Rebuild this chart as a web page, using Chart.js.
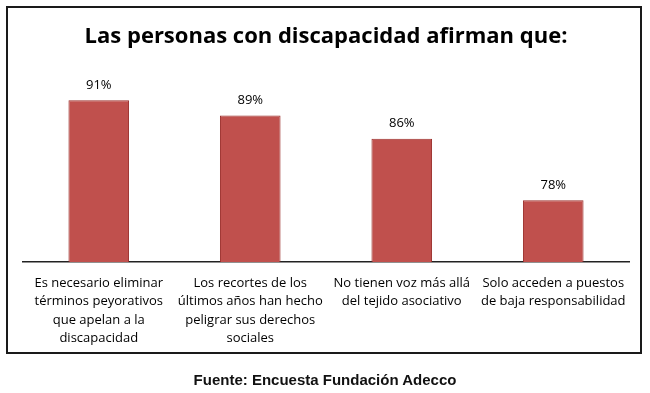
<!DOCTYPE html>
<html>
<head>
<meta charset="utf-8">
<script src="https://cdn.jsdelivr.net/npm/chart.js@4"></script>
<style>
  html, body { margin: 0; padding: 0; background: #fff; }
  #wrap { position: relative; width: 650px; height: 393px; }
  #frame {
    position: absolute; left: 6px; top: 6px; width: 632px; height: 344px;
    border: 2px solid #1a1a1a;
  }
  #chart { position: absolute; left: 0; top: 0; }
  #source {
    position: absolute; left: 0; width: 650px; top: 371px;
    text-align: center; font: bold 15px "Liberation Sans", Arial, sans-serif; color: #111;
  }
</style>
</head>
<body>
<div id="wrap">
  <div id="frame"></div>
  <canvas id="chart" width="650" height="393"></canvas>
  <div id="source">Fuente: Encuesta Fundación Adecco</div>
</div>
<script>
// datos del gráfico
const categorias = [
    ['Es necesario eliminar', 'términos peyorativos', 'que apelan a la', 'discapacidad'],
    ['Los recortes de los', 'últimos años han hecho', 'peligrar sus derechos', 'sociales'],
    ['No tienen voz más allá', 'del tejido asociativo'],
    ['Solo acceden a puestos', 'de baja responsabilidad']
];
const porcentajes = [91, 89, 86, 78];
const titulo = 'Las personas con discapacidad afirman que:';

// etiquetas de valor encima de cada barra
const etiquetasValor = {
    id: 'etiquetasValor',
    afterDatasetsDraw(chart) {
        const ctx = chart.ctx;
        const meta = chart.getDatasetMeta(0);
        ctx.save();
        ctx.font = '13px "Open Sans", sans-serif';
        ctx.fillStyle = '#000';
        ctx.textAlign = 'center';
        ctx.textBaseline = 'middle';
        meta.data.forEach((bar, i) => {
            ctx.fillText(porcentajes[i] + '%', bar.x, bar.y - 15);
        });
        ctx.restore();
    }
};

new Chart(document.getElementById('chart'), {
    type: 'bar',
    data: {
        labels: categorias,
        datasets: [{
            data: porcentajes,
            backgroundColor: '#C0504D',
            borderColor: '#9A2E2B',
            borderWidth: 1,
            barPercentage: 0.4,
            categoryPercentage: 1
        }]
    },
    options: {
        responsive: false,
        animation: false,
        layout: { padding: { left: 23, right: 21, top: 0, bottom: 0 } },
        plugins: {
            legend: { display: false },
            tooltip: { enabled: false },
            title: {
                display: true,
                text: titulo,
                color: '#000',
                font: { family: '"Open Sans", sans-serif', size: 22, weight: 'bold' },
                padding: { top: 24, bottom: 19 }
            }
        },
        scales: {
            x: {
                grid: { display: false },
                border: { display: true, color: '#222', width: 1.5 },
                ticks: {
                    color: '#000',
                    font: { family: '"Open Sans", sans-serif', size: 13, lineHeight: 1.42 },
                    padding: 4,
                    maxRotation: 0,
                    autoSkip: false
                },
                afterFit(scale) { scale.height = 131; }
            },
            y: {
                display: false,
                min: 70,
                max: 95
            }
        }
    },
    plugins: [etiquetasValor]
});
</script>
</body>
</html>
